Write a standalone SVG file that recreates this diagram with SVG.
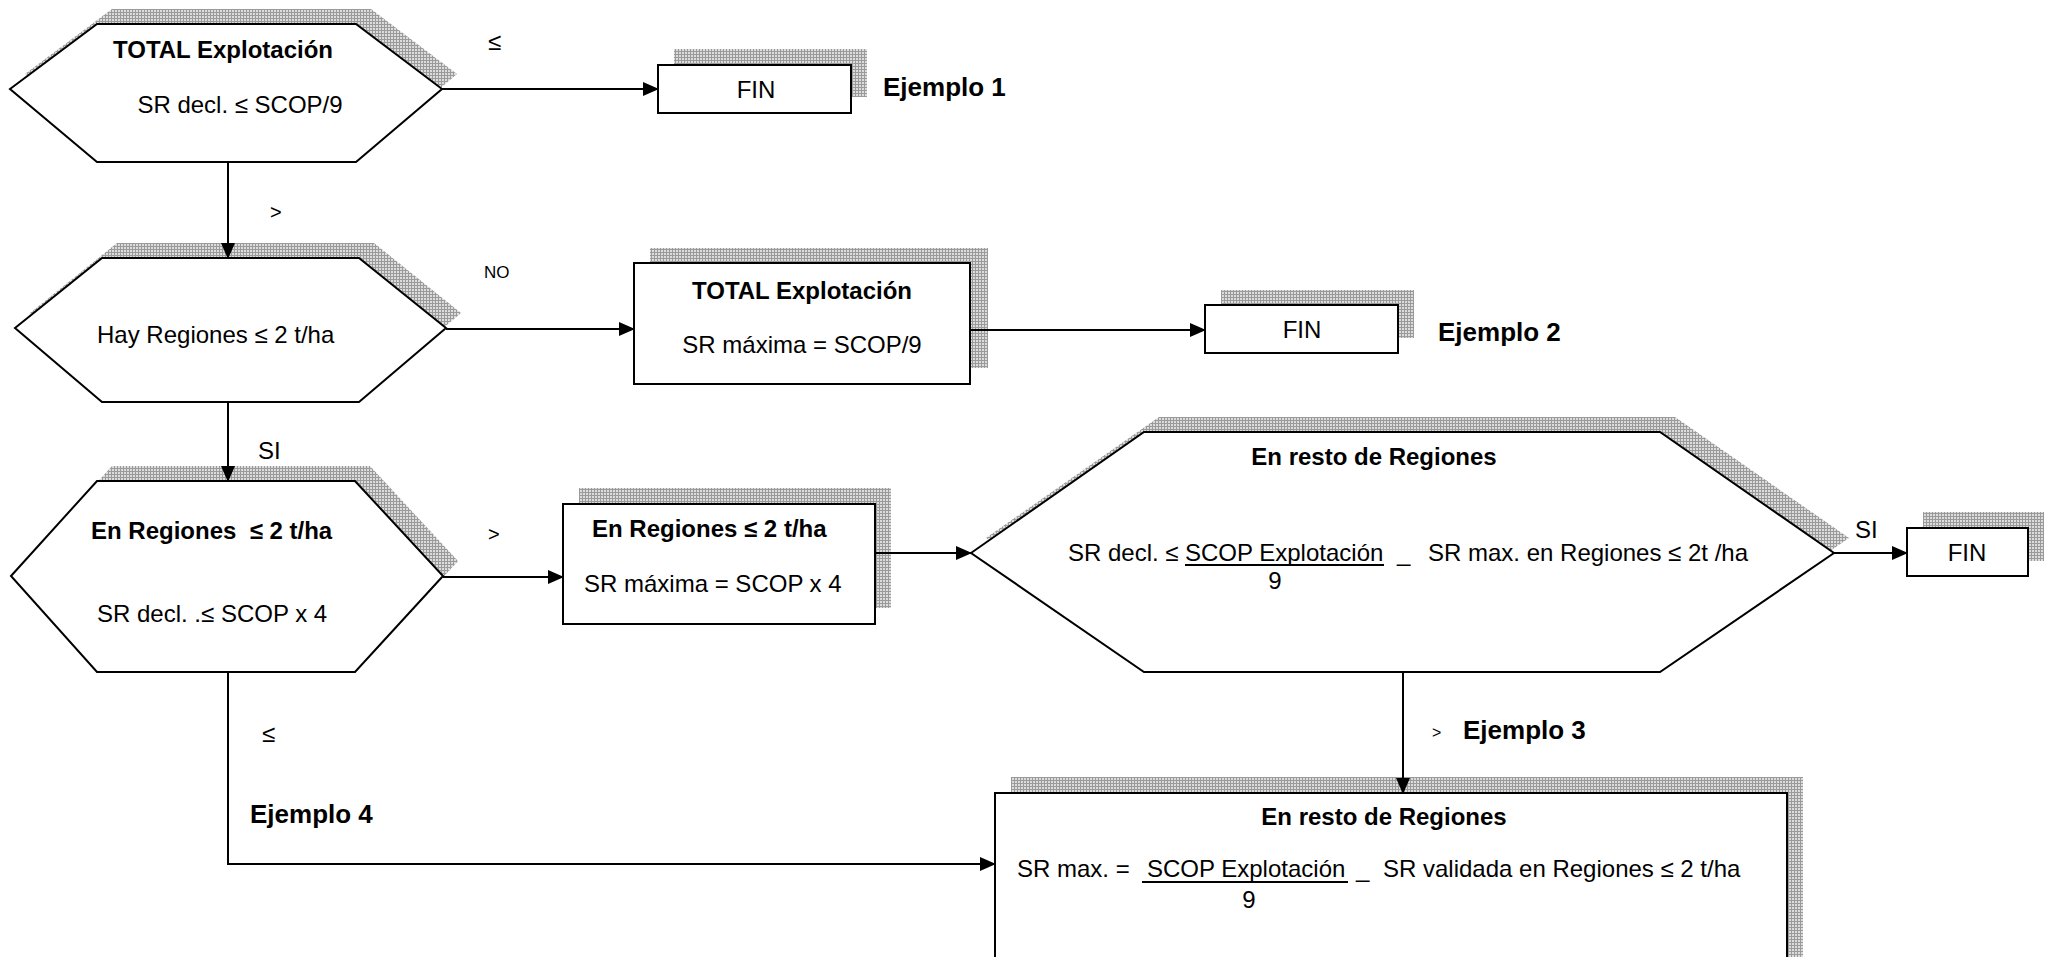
<svg xmlns="http://www.w3.org/2000/svg" width="2045" height="957" viewBox="0 0 2045 957">
<defs>
<pattern id="hatch" width="3" height="3" patternUnits="userSpaceOnUse">
<rect width="3" height="3" fill="#dcdcdc"/>
<path d="M0 0.5H3M0.5 0V3" stroke="#9a9a9a" stroke-width="1"/>
</pattern>
<marker id="arr" markerWidth="16" markerHeight="14" refX="15" refY="7" orient="auto" markerUnits="userSpaceOnUse">
<path d="M0 0L16 7L0 14Z" fill="#000"/>
</marker>
<style>
.shape{fill:#fff;stroke:#000;stroke-width:2}
.shadow{fill:url(#hatch);stroke:none}
.conn{fill:none;stroke:#000;stroke-width:2}
.t{font-family:"Liberation Sans",Arial,sans-serif;font-size:24px;fill:#000}
.b{font-weight:bold}
.ej{font-family:"Liberation Sans",Arial,sans-serif;font-size:26px;font-weight:bold;fill:#000}
.m{text-anchor:middle}
</style>
</defs>
<rect width="2045" height="957" fill="#fff"/>

<g id="hex1">
<polygon class="shadow" points="25,74 112,9 371,9 457,74 371,147 112,147"/>
<polygon class="shape" points="10,89 97,24 356,24 442,89 356,162 97,162"/>
<text class="t b m" x="223" y="58">TOTAL Explotación</text>
<text class="t m" x="240" y="113">SR decl. ≤ SCOP/9</text>
</g>

<g id="fin1">
<rect class="shadow" x="674" y="49" width="193" height="48"/>
<rect class="shape" x="658" y="65" width="193" height="48"/>
<text class="t m" x="756" y="98">FIN</text>
</g>
<text class="ej" x="883" y="96">Ejemplo 1</text>

<g id="hex2">
<polygon class="shadow" points="30,313 117,243 374,243 461,313 374,387 117,387"/>
<polygon class="shape" points="15,328 102,258 359,258 446,328 359,402 102,402"/>
<text class="t" x="97" y="343">Hay Regiones ≤ 2 t/ha</text>
</g>

<g id="box2">
<rect class="shadow" x="650" y="248" width="338" height="120"/>
<rect class="shape" x="634" y="263" width="336" height="121"/>
<text class="t b m" x="802" y="299">TOTAL Explotación</text>
<text class="t m" x="802" y="353">SR máxima = SCOP/9</text>
</g>

<g id="fin2">
<rect class="shadow" x="1221" y="290" width="193" height="48"/>
<rect class="shape" x="1205" y="305" width="193" height="48"/>
<text class="t m" x="1302" y="338">FIN</text>
</g>
<text class="ej" x="1438" y="341">Ejemplo 2</text>

<g id="hex3">
<polygon class="shadow" points="26,561 112,466 370,466 458,561 370,657 112,657"/>
<polygon class="shape" points="11,576 97,481 355,481 443,576 355,672 97,672"/>
<text class="t b" x="91" y="539">En Regiones &#160;≤ 2 t/ha</text>
<text class="t" x="97" y="622">SR decl. .≤ SCOP x 4</text>
</g>

<g id="box3">
<rect class="shadow" x="579" y="488" width="312" height="120"/>
<rect class="shape" x="563" y="504" width="312" height="120"/>
<text class="t b" x="592" y="537">En Regiones ≤ 2 t/ha</text>
<text class="t" x="584" y="592">SR máxima = SCOP x 4</text>
</g>

<g id="hex4">
<polygon class="shadow" points="986,538 1159,417 1675,417 1849,538 1675,657 1159,657"/>
<polygon class="shape" points="971,553 1144,432 1660,432 1834,553 1660,672 1144,672"/>
<text class="t b m" x="1374" y="465">En resto de Regiones</text>
<text class="t" x="1068" y="561">SR decl. ≤ </text>
<text class="t" x="1185" y="561">SCOP Explotación</text>
<line x1="1185" y1="565" x2="1384" y2="565" stroke="#000" stroke-width="2"/>
<text class="t m" x="1275" y="589">9</text>
<text class="t" x="1397" y="561">_</text>
<text class="t" x="1428" y="561">SR max. en Regiones ≤ 2t /ha</text>
</g>

<g id="fin3">
<rect class="shadow" x="1923" y="512" width="121" height="49"/>
<rect class="shape" x="1907" y="528" width="121" height="48"/>
<text class="t m" x="1967" y="561">FIN</text>
</g>

<g id="box4">
<rect class="shadow" x="1011" y="777" width="792" height="200"/>
<rect class="shape" x="995" y="793" width="792" height="200"/>
<text class="t b m" x="1384" y="825">En resto de Regiones</text>
<text class="t" x="1017" y="877">SR max. =</text>
<text class="t" x="1147" y="877">SCOP Explotación</text>
<line x1="1142" y1="882" x2="1348" y2="882" stroke="#000" stroke-width="2"/>
<text class="t m" x="1249" y="908">9</text>
<text class="t" x="1356" y="877">_</text>
<text class="t" x="1383" y="877">SR validada en Regiones ≤ 2 t/ha</text>
</g>

<g id="connectors">
<line class="conn" x1="442" y1="89" x2="658" y2="89" marker-end="url(#arr)"/>
<line class="conn" x1="228" y1="162" x2="228" y2="258" marker-end="url(#arr)"/>
<line class="conn" x1="446" y1="329" x2="634" y2="329" marker-end="url(#arr)"/>
<line class="conn" x1="970" y1="330" x2="1205" y2="330" marker-end="url(#arr)"/>
<line class="conn" x1="228" y1="402" x2="228" y2="481" marker-end="url(#arr)"/>
<line class="conn" x1="443" y1="577" x2="563" y2="577" marker-end="url(#arr)"/>
<line class="conn" x1="875" y1="553" x2="971" y2="553" marker-end="url(#arr)"/>
<line class="conn" x1="1834" y1="553" x2="1907" y2="553" marker-end="url(#arr)"/>
<line class="conn" x1="1403" y1="672" x2="1403" y2="793" marker-end="url(#arr)"/>
<polyline class="conn" points="228,672 228,864 995,864" marker-end="url(#arr)"/>
</g>

<g id="labels">
<text class="t" x="488" y="50">≤</text>
<text class="t" style="font-size:20px" x="270" y="219">&gt;</text>
<text class="t" style="font-size:17px" x="484" y="278">NO</text>
<text class="t" x="258" y="459">SI</text>
<text class="t" style="font-size:20px" x="488" y="541">&gt;</text>
<text class="t" x="1855" y="538">SI</text>
<text class="t" style="font-size:16px" x="1432" y="738">&gt;</text>
<text class="ej" x="1463" y="739">Ejemplo 3</text>
<text class="t" x="262" y="742">≤</text>
<text class="ej" x="250" y="823">Ejemplo 4</text>
</g>
</svg>
